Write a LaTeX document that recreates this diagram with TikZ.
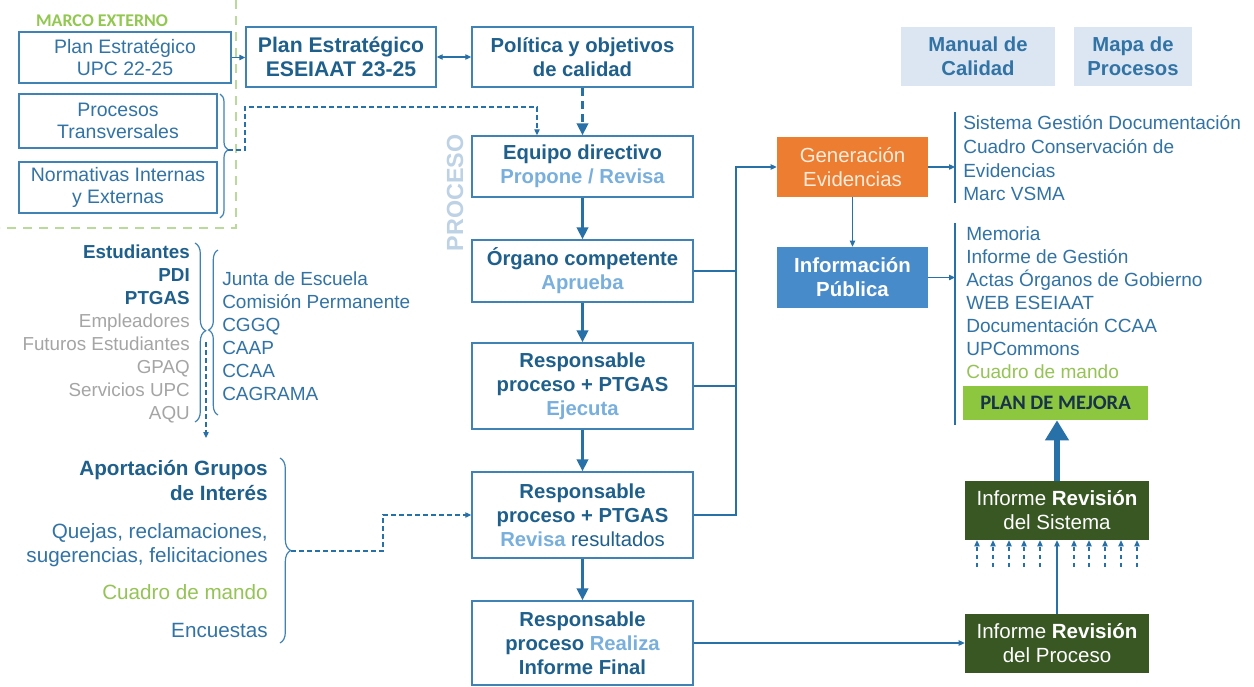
\documentclass[tikz,border=0pt]{standalone}
\usepackage{fontspec}
\setmainfont{Liberation Sans}
\newfontfamily\calfont{Carlito}
\usetikzlibrary{arrows.meta,decorations.pathreplacing}
\definecolor{cBox}{RGB}{65,130,180}
\definecolor{cLn}{RGB}{40,112,168}
\definecolor{cDk}{RGB}{30,95,140}
\definecolor{cTx}{RGB}{50,115,165}
\definecolor{cLt}{RGB}{120,175,220}
\definecolor{cGy}{RGB}{165,165,165}
\definecolor{cGn}{RGB}{150,195,85}
\definecolor{cMg}{RGB}{146,200,80}
\definecolor{cFr}{RGB}{185,218,155}
\definecolor{cOr}{RGB}{237,125,49}
\definecolor{cGt}{RGB}{252,236,220}
\definecolor{cIf}{RGB}{72,139,203}
\definecolor{cDg}{RGB}{56,87,35}
\definecolor{cPl}{RGB}{141,198,63}
\definecolor{cPlT}{RGB}{23,50,75}
\definecolor{cMn}{RGB}{220,230,242}
\definecolor{cPr}{RGB}{190,210,230}
\begin{document}
\begin{tikzpicture}[x=0.75pt,y=-0.75pt,
  wh/.style 2 args={minimum width=#1*0.75pt,minimum height=#2*0.75pt},
  mainbox/.style={draw=cBox,line width=1.1pt,fill=white,align=center,inner sep=0pt,text=cDk,font=\bfseries\fontsize{15.2}{18}\selectfont},
  leftbox/.style={draw=cBox,line width=1.1pt,fill=white,align=center,inner sep=0pt,text=cTx,font=\fontsize{14.6}{16.3}\selectfont},
  fillbox/.style={align=center,inner sep=0pt,font=\fontsize{15.3}{18}\selectfont},
  stk/.style={anchor=base east,inner sep=0pt,font=\fontsize{14.1}{16}\selectfont},
  cmt/.style={anchor=base west,inner sep=0pt,text=cTx,font=\fontsize{14.25}{16}\selectfont},
  rl/.style={anchor=base west,inner sep=0pt,text=cTx,font=\fontsize{14.3}{16}\selectfont},
  apo/.style={anchor=base east,inner sep=0pt,text=cTx,font=\fontsize{15.5}{18}\selectfont},
  brc/.style={draw=cBox,line width=0.9pt,decorate},
  thinarr/.style={draw=cLn,line width=0.9pt,-{Triangle[length=4.5pt,width=4pt]}},
  thinln/.style={draw=cLn,line width=0.9pt},
  dsharr/.style={draw=cLn,line width=0.9pt,dash pattern=on 3.5pt off 2.5pt,-{Triangle[length=4.5pt,width=4pt]}},
  thkarr/.style={draw=cLn,line width=2.2pt,-{Triangle[length=9pt,width=8.5pt]}},
  thkdsh/.style={draw=cLn,line width=2.2pt,dash pattern=on 6pt off 4pt,-{Triangle[length=9pt,width=8.5pt]}},
  bigarr/.style={draw=cLn,line width=4.5pt,-{Triangle[length=15pt,width=17pt]}},
  frame/.style={draw=cFr,line width=1.8pt,dash pattern=on 7pt off 5pt}
]
\useasboundingbox (0,0) rectangle (1254,686);
\fill[white] (0,0) rectangle (1254,686);

% external frame
\coordinate (fr1) at (236,0);
\coordinate (fr2) at (236,228);
\coordinate (fr3) at (0,228);
\draw[frame] (fr1) -- (fr2) -- (fr3);
\node[text=cMg,font=\calfont\bfseries\fontsize{13.4}{15}\selectfont] (marco) at (102,21) {MARCO EXTERNO};

% left boxes
\node[leftbox,wh={212}{51}] (upc) at (125,57.5) {Plan Estratégico\\UPC 22-25};
\node[leftbox,wh={198}{54}] (proc) at (118,121) {Procesos\\Transversales};
\node[leftbox,wh={198}{51}] (norm) at (118,187.5) {Normativas Internas\\y Externas};

% top boxes
\node[mainbox,font=\bfseries\fontsize{15.9}{18}\selectfont,wh={190}{60}] (esei) at (341,57) {Plan Estratégico\\ESEIAAT 23-25};
\node[mainbox,wh={221}{60}] (pol) at (582.5,57) {Política y objetivos\\de calidad};

% process column
\node[rotate=90,text=cPr,font=\bfseries\fontsize{17.5}{20}\selectfont] (procl) at (455,193) {PROCESO};
\node[mainbox,wh={221}{61}] (equ) at (582.5,166.5) {Equipo directivo\\\textcolor{cLt}{Propone / Revisa}};
\node[mainbox,wh={221}{62}] (org) at (582.5,271) {Órgano competente\\\textcolor{cLt}{Aprueba}};
\node[mainbox,wh={221}{86}] (eje) at (582.5,386) {Responsable\\proceso + PTGAS\\\textcolor{cLt}{Ejecuta}};
\node[mainbox,wh={221}{86}] (rev) at (582.5,515) {Responsable\\proceso + PTGAS\\\textcolor{cLt}{Revisa} \mdseries resultados};
\node[mainbox,wh={221}{84}] (rea) at (582.5,643) {Responsable\\proceso \textcolor{cLt}{Realiza}\\Informe Final};

% right column
\node[fillbox,fill=cMn,text=cTx,font=\bfseries\fontsize{15.2}{18}\selectfont,wh={154}{59}] (man) at (978,56.5) {Manual de\\Calidad};
\node[fillbox,fill=cMn,text=cTx,font=\bfseries\fontsize{15.2}{18}\selectfont,wh={118}{59}] (mapa) at (1133,56.5) {Mapa de\\Procesos};
\node[fillbox,fill=cOr,text=cGt,wh={151}{60}] (gen) at (852.5,167) {Generación\\Evidencias};
\node[fillbox,fill=cIf,text=white,font=\bfseries\fontsize{15.3}{18}\selectfont,wh={151}{61}] (inf) at (852.5,277.5) {Información\\Pública};
\node[fillbox,fill=cPl,text=cPlT,font=\calfont\bfseries\fontsize{15.4}{17}\selectfont,wh={185}{34}] (plan) at (1055.5,403) {PLAN DE MEJORA};
\node[fillbox,fill=cDg,text=white,font=\fontsize{15.4}{18}\selectfont,wh={184}{59}] (sis) at (1057,510.5) {Informe \textbf{Revisión}\\del Sistema};
\node[fillbox,fill=cDg,text=white,font=\fontsize{15.4}{18}\selectfont,wh={184}{59}] (pro) at (1057,643.5) {Informe \textbf{Revisión}\\del Proceso};

% right lists
\node[rl] (e1) at (963,129) {Sistema Gestión Documentación};
\node[rl] (e2) at (963,153) {Cuadro Conservación de};
\node[rl] (e3) at (963,177) {Evidencias};
\node[rl] (e4) at (963,200) {Marc VSMA};
\node[rl] (p1) at (966,240) {Memoria};
\node[rl] (p2) at (966,263) {Informe de Gestión};
\node[rl] (p3) at (966,286) {Actas Órganos de Gobierno};
\node[rl] (p4) at (966,309) {WEB ESEIAAT};
\node[rl] (p5) at (966,332) {Documentación CCAA};
\node[rl] (p6) at (966,355) {UPCommons};
\node[rl,text=cGn] (p7) at (966,378) {Cuadro de mando};

% stakeholders
\node[stk,text=cDk] (s1) at (190,258) {\bfseries Estudiantes};
\node[stk,text=cDk] (s2) at (190,281) {\bfseries PDI};
\node[stk,text=cDk] (s3) at (190,304) {\bfseries PTGAS};
\node[stk,text=cGy] (s4) at (190,327) {Empleadores};
\node[stk,text=cGy] (s5) at (190,350) {Futuros Estudiantes};
\node[stk,text=cGy] (s6) at (190,373) {GPAQ};
\node[stk,text=cGy] (s7) at (190,396) {Servicios UPC};
\node[stk,text=cGy] (s8) at (190,419) {AQU};

% committees
\node[cmt] (c1) at (222,285) {Junta de Escuela};
\node[cmt] (c2) at (222,308) {Comisión Permanente};
\node[cmt] (c3) at (222,331) {CGGQ};
\node[cmt] (c4) at (222,354) {CAAP};
\node[cmt] (c5) at (222,377) {CCAA};
\node[cmt] (c6) at (222,400) {CAGRAMA};

% aportacion
\node[apo,text=cDk] (a1) at (268,475) {\bfseries Aportación Grupos};
\node[apo,text=cDk] (a2) at (268,500) {\bfseries de Interés};
\node[apo] (a3) at (268,538) {Quejas, reclamaciones,};
\node[apo] (a4) at (268,562) {sugerencias, felicitaciones};
\node[apo,text=cGn] (a5) at (268,599) {Cuadro de mando};
\node[apo] (a6) at (268,637) {Encuestas};

% braces
\draw[brc,decoration={brace,amplitude=6pt,aspect=0.45}] (220,94) -- (220,218);
\draw[brc,decoration={brace,amplitude=8pt,aspect=0.49}] (195,243) -- (195,422);
\draw[brc,decoration={brace,amplitude=7pt,aspect=0.515}] (218,415) -- (218,250);
\draw[brc,decoration={brace,amplitude=8pt,aspect=0.5}] (280,458) -- (280,643);

% coordinates for free ends
\coordinate (ptip) at (228,150);
\coordinate (atip) at (291,551);
\coordinate (sa) at (206,342);
\coordinate (sb) at (206,438);
\coordinate (bus) at (736,167);
\coordinate (l1t) at (955,112);
\coordinate (l1b) at (955,203);
\coordinate (l2t) at (955,223);
\coordinate (l2b) at (955,425);

% connectors
\draw[thinarr] (upc.east) -- (upc.east -| esei.west);
\draw[thinln,{Triangle[length=4.5pt,width=4pt]}-{Triangle[length=4.5pt,width=4pt]}] (esei.east) -- (pol.west);
\draw[dsharr] (ptip) -- (245,150) -- (245,107) -- (537,107) -- (537,0 |- equ.north);
\draw[thkdsh] (pol.south) -- (equ.north);
\draw[thkarr] (equ.south) -- (org.north);
\draw[thkarr] (org.south) -- (eje.north);
\draw[thkarr] (eje.south) -- (rev.north);
\draw[thkarr] (rev.south) -- (rea.north);
\draw[dsharr] (sa) -- (sb);
\draw[dsharr] (atip) -- (383,551) -- (383,515) -- (rev.west);

\draw[thinln] (org.east) -- (org.east -| bus);
\draw[thinln] (eje.east) -- (eje.east -| bus);
\draw[thinarr] (rev.east) -- (rev.east -| bus) -- (bus) -- (gen.west);
\draw[thinarr] (gen.south) -- (inf.north);
\draw[thinln] (l1t) -- (l1b);
\draw[thinln] (l2t) -- (l2b);
\draw[thinarr] (gen.east) -- (gen.east -| l1t);
\draw[thinarr] (inf.east) -- (inf.east -| l2t);

\draw[thinarr] (rea.east) -- (rea.east -| pro.west);
\draw[thinarr] (pro.north) -- (sis.south);
\foreach \x in {977,993,1009,1024,1040,1074,1089,1105,1121,1137}
  \draw[dsharr,dash pattern=on 3pt off 3pt] (\x,567) -- (\x,0 |- sis.south);
\draw[bigarr] (sis.north) -- (sis.north |- plan.south);
\end{tikzpicture}
\end{document}
